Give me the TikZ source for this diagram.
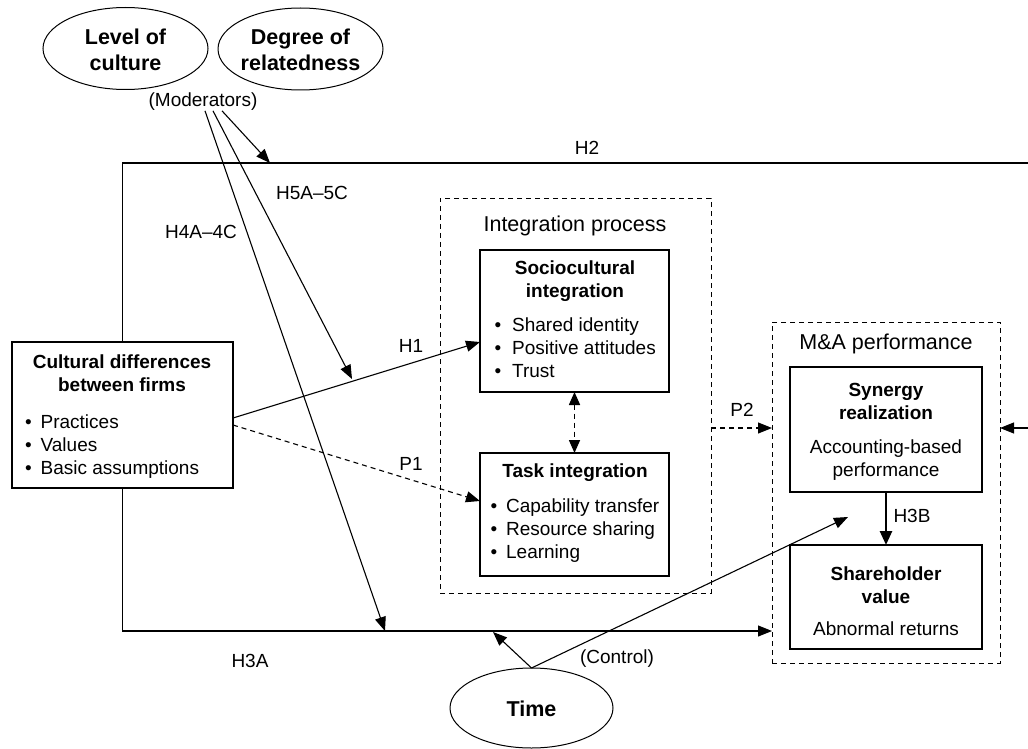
\documentclass[tikz,border=0pt]{standalone}
\usepackage{fontspec}
\setmainfont{Liberation Sans}
\usetikzlibrary{shapes.geometric,arrows.meta,calc}
\begin{document}
\begin{tikzpicture}[x=1pt,y=-1pt,
  every node/.style={font=\fontsize{19}{23}\selectfont, inner sep=0pt, outer sep=0pt},
  box/.style={draw, line width=1.2pt, rectangle},
  dbox/.style={draw, line width=1pt, dash pattern=on 5pt off 4pt},
  oval/.style={draw, ellipse, line width=1pt},
  head/.style={font=\fontsize{21.5}{26}\selectfont},
  ovaltext/.style={font=\fontsize{21.5}{26}\selectfont\bfseries, align=center},
  title/.style={font=\fontsize{19}{23}\selectfont\bfseries, align=center},
  plain/.style={align=center},
  conn/.style={line width=1.1pt, -{Triangle[length=14pt,width=11pt]}},
  dconn/.style={line width=1.1pt, dash pattern=on 5pt off 4pt, -{Triangle[length=14pt,width=11pt]}},
  thick conn/.style={line width=2.6pt, -{Triangle[length=14pt,width=12pt]}},
  dbl/.style={line width=1.6pt, dash pattern=on 5pt off 4pt, {Triangle[length=13pt,width=11pt]}-{Triangle[length=13pt,width=11pt]}},
  line/.style={line width=1.1pt}
]
\useasboundingbox (0,0) rectangle (1028,749);
\clip (0,0) rectangle (1028,749);
\fill[white] (0,0) rectangle (1028,749);

% boxes
\node[box, minimum width=221pt, minimum height=146pt] (cult) at (122.5,415) {};
\node[dbox, minimum width=271pt, minimum height=395pt] (integ) at (575.5,395.5) {};
\node[box, minimum width=189pt, minimum height=142pt] (socio) at (574.5,321) {};
\node[box, minimum width=189pt, minimum height=123pt] (task) at (574.5,514.5) {};
\node[dbox, minimum width=228pt, minimum height=341pt] (ma) at (886,492.5) {};
\node[box, minimum width=192pt, minimum height=125pt] (syn) at (886,429.5) {};
\node[box, minimum width=192pt, minimum height=104pt] (share) at (886,597) {};
\node[oval, minimum width=165pt, minimum height=82pt] (level) at (125.5,48.5) {};
\node[oval, minimum width=165pt, minimum height=82pt] (degree) at (300.5,49) {};
\node[oval, minimum width=163pt, minimum height=80pt] (time) at (531.5,708) {};

% texts in ellipses
\node[ovaltext] (levelt) at (125.5,50) {Level of\\culture};
\node[ovaltext] (degreet) at (300.5,50) {Degree of\\relatedness};
\node[ovaltext] (timet) at (531.5,709) {Time};
\node (mod) at (203,102) {(Moderators)};

% texts in boxes
\node[title] (cultt) at (122,373) {Cultural differences\\between firms};
\node[anchor=base west] (cultl) at (25,428) {\begin{tabular}[t]{@{}l@{\hspace{9pt}}l@{}}\textbullet & Practices\\ \textbullet & Values\\ \textbullet & Basic assumptions\end{tabular}};
\node[head] (integt) at (575,226) {Integration process};
\node[title] (sociot) at (575,281) {Sociocultural\\integration};
\node[anchor=base west] (sociol) at (494.5,331) {\begin{tabular}[t]{@{}l@{\hspace{11pt}}l@{}}\textbullet & Shared identity\\ \textbullet & Positive attitudes\\ \textbullet & Trust\end{tabular}};
\node[title] (taskt) at (575,473) {Task integration};
\node[anchor=base west] (taskl) at (490.5,512) {\begin{tabular}[t]{@{}l@{\hspace{9pt}}l@{}}\textbullet & Capability transfer\\ \textbullet & Resource sharing\\ \textbullet & Learning\end{tabular}};
\node[head] (mat) at (886,344) {M\&A performance};
\node[title] (synt) at (886,401) {Synergy\\realization};
\node[plain] (synl) at (886,460) {Accounting-based\\performance};
\node[title] (sharet) at (886,585) {Shareholder\\value};
\node (sharel) at (886,629) {Abnormal returns};

% labels
\node (lH2) at (587,148) {H2};
\node (lH5) at (312,193) {H5A--5C};
\node (lH4) at (201,232) {H4A--4C};
\node (lH1) at (411,346) {H1};
\node (lP1) at (411,464) {P1};
\node (lP2) at (742,410) {P2};
\node (lH3A) at (250,661) {H3A};
\node (lH3B) at (912,516) {H3B};
\node (lctrl) at (617,659) {(Control)};

% helper coordinates
\coordinate (yP2) at (0,428);
\coordinate (yB) at (0,631);
\coordinate (yT) at (0,163);
\coordinate (h2t) at (270,163);
\coordinate (h5t) at (352,379);
\coordinate (h4t) at (385,631);
\coordinate (tb) at (493,632);
\coordinate (tc) at (848,517);
\coordinate (far) at (1045,163);

% connectors
\draw[conn] ([yshift=-3pt]cult.east) -- ([yshift=-21pt]socio.west);
\draw[dconn] ([yshift=-10pt]cult.east) -- ([yshift=13.5pt]task.west);
\draw[dbl] (socio.south) -- (task.north);
\draw[dconn] (integ.east |- yP2) -- (ma.west |- yP2);
\draw[thick conn] (syn.south) -- (share.north);
\draw[conn] (cult.south) |- (ma.west |- yB);
\draw[line width=1.1pt, -{Triangle[length=14pt,width=11pt]}] (cult.north) |- (far) -- (far |- yP2) -- (ma.east |- yP2);
\draw[conn] ([xshift=19pt]mod.south) -- (h2t);
\draw[conn] ([xshift=10pt]mod.south) -- (h5t);
\draw[conn] ([xshift=2pt]mod.south) -- (h4t);
\draw[conn] (time.north) -- (tb);
\draw[conn] (time.north) -- (tc);
\end{tikzpicture}
\end{document}
